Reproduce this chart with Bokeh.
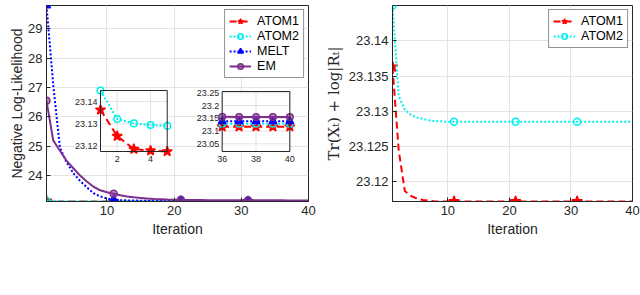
from bokeh.plotting import figure
from bokeh.models import Range1d, Legend, LegendItem, Label, FixedTicker
from bokeh.layouts import row
from bokeh.embed import file_html
from bokeh.resources import INLINE
from bokeh.core.properties import value

# ---------------- data ----------------
iterations = list(range(1, 41))

atom1 = [23.1363, 23.1245, 23.1187, 23.1180, 23.1176, 23.1174, 23.1173, 23.1172, 23.1172, 23.1172,
         23.1172, 23.1172, 23.1172, 23.1172, 23.1172, 23.1172, 23.1172, 23.1172, 23.1172, 23.1172,
         23.1172, 23.1172, 23.1172, 23.1172, 23.1172, 23.1172, 23.1172, 23.1172, 23.1172, 23.1172,
         23.1172, 23.1172, 23.1172, 23.1172, 23.1172, 23.1172, 23.1172, 23.1172, 23.1172, 23.1172]

atom2 = [23.1450, 23.1322, 23.1302, 23.1295, 23.1291, 23.1289, 23.1287, 23.1286, 23.1286, 23.1285,
         23.1285, 23.1285, 23.1285, 23.1285, 23.1285, 23.1285, 23.1285, 23.1285, 23.1285, 23.1285,
         23.1285, 23.1285, 23.1285, 23.1285, 23.1285, 23.1285, 23.1285, 23.1285, 23.1285, 23.1285,
         23.1285, 23.1285, 23.1285, 23.1285, 23.1285, 23.1285, 23.1285, 23.1285, 23.1285, 23.1285]

melt = [29.80, 27.10, 24.95, 24.45, 24.08, 23.82, 23.60, 23.40, 23.29, 23.22,
        23.18, 23.165, 23.155, 23.150, 23.146, 23.144, 23.142, 23.141, 23.140, 23.140,
        23.139, 23.139, 23.139, 23.139, 23.138, 23.138, 23.138, 23.138, 23.138, 23.138,
        23.138, 23.138, 23.138, 23.138, 23.138, 23.138, 23.138, 23.138, 23.138, 23.138]

em = [26.55, 25.20, 24.85, 24.50, 24.25, 24.00, 23.80, 23.62, 23.50, 23.43,
      23.38, 23.33, 23.29, 23.26, 23.24, 23.22, 23.205, 23.195, 23.185, 23.178,
      23.173, 23.170, 23.167, 23.165, 23.163, 23.162, 23.161, 23.160, 23.159, 23.158,
      23.158, 23.157, 23.157, 23.156, 23.156, 23.156, 23.155, 23.155, 23.155, 23.155]

marker_iters = [1, 11, 21, 31]
inset1_iters = [1, 2, 3, 4, 5]
inset2_iters = [36, 37, 38, 39, 40]

a_xticks = [10, 20, 30, 40]
a_yticks = [24, 25, 26, 27, 28, 29]
b_xticks = [10, 20, 30, 40]
b_yticks = [23.12, 23.125, 23.13, 23.135, 23.14]
b_ytick_labels = ["23.12", "23.125", "23.13", "23.135", "23.14"]

in1_xticks = [2, 4]
in1_xtick_labels = ["2", "4"]
in1_yticks = [23.12, 23.13, 23.14]
in1_ytick_labels = ["23.12", "23.13", "23.14"]
in2_xticks = [36, 38, 40]
in2_xtick_labels = ["36", "38", "40"]
in2_yticks = [23.05, 23.1, 23.15, 23.2, 23.25]
in2_ytick_labels = ["23.05", "23.1", "23.15", "23.2", "23.25"]

series_names = ["ATOM1", "ATOM2", "MELT", "EM"]
series_a = {"ATOM1": atom1, "ATOM2": atom2, "MELT": melt, "EM": em}
series_b = ["ATOM1", "ATOM2"]

# ---------------- styles ----------------
FONT = "Liberation Sans"
SERIF = "Liberation Serif"
AX = "#262626"
GRID = "#e3e3e3"

STY = {
    "ATOM1": dict(color="#ff0000", dash="7 4", marker="star", size=11, fill="#ff0000", falpha=1.0),
    "ATOM2": dict(color="#00f0f0", dash="2 2", marker="circle", size=7, fill="#00f0f0", falpha=0.0),
    "MELT": dict(color="#0000ff", dash="2 2", marker="triangle", size=8, fill="#0000ff", falpha=1.0),
    "EM": dict(color="#7e2f8e", dash="solid", marker="circle", size=7, fill="#7e2f8e", falpha=0.55),
}


def pick(series, its):
    return [series[i - 1] for i in its]


def draw(target, name, xs, ys, mxs, mys, lw=2.0, scale=1.0):
    s = STY[name]
    ln = target.line(xs, ys, line_color=s["color"], line_width=lw, line_dash=s["dash"])
    mk = target.scatter(mxs, mys, marker=s["marker"], size=s["size"] * scale,
                        line_color=s["color"], line_width=1.5,
                        fill_color=s["fill"], fill_alpha=s["falpha"])
    return ln, mk


def style_axes(p):
    p.outline_line_color = AX
    p.outline_line_width = 1
    for ax in p.axis:
        ax.axis_line_color = AX
        ax.major_tick_in = 4
        ax.major_tick_out = 0
        ax.major_tick_line_color = AX
        ax.minor_tick_line_color = None
        ax.major_label_text_font = FONT
        ax.major_label_text_font_size = "13px"
        ax.major_label_text_color = AX
        ax.axis_label_text_font = FONT
        ax.axis_label_text_font_size = "14px"
        ax.axis_label_text_font_style = "normal"
        ax.axis_label_text_color = AX
        ax.major_label_standoff = 4
    for g in p.grid:
        g.grid_line_color = GRID
        g.grid_line_width = 1


def make_legend(items):
    return Legend(items=items, location="top_right",
                  label_text_font=FONT, label_text_font_size="12.5px", label_text_color="#000000",
                  border_line_color=AX, border_line_width=1, background_fill_alpha=1,
                  glyph_width=22, glyph_height=14, label_height=14, label_standoff=6,
                  spacing=1, padding=4, margin=4)


def inset(p, xs_rng, ys_rng, xt_rng, yt_rng, its, names, xticks, xlabels, yticks, ylabels):
    sub = p.subplot(x_source=xs_rng, y_source=ys_rng, x_target=xt_rng, y_target=yt_rng)
    sub.quad(left=[xs_rng.start], right=[xs_rng.end], bottom=[ys_rng.start], top=[ys_rng.end],
             fill_color="white", line_color=None)
    sub.segment(x0=xticks, y0=[ys_rng.start] * len(xticks), x1=xticks, y1=[ys_rng.end] * len(xticks),
                line_color=GRID, line_width=1)
    sub.segment(x0=[xs_rng.start] * len(yticks), y0=yticks, x1=[xs_rng.end] * len(yticks), y1=yticks,
                line_color=GRID, line_width=1)
    for nm in names:
        ys = pick(series_a[nm], its)
        draw(sub, nm, its, ys, its, ys, lw=2.0, scale=0.95)
    sub.quad(left=[xs_rng.start], right=[xs_rng.end], bottom=[ys_rng.start], top=[ys_rng.end],
             fill_alpha=0, line_color=AX, line_width=1)
    sub.text(x=xticks, y=[ys_rng.start] * len(xticks), text=xlabels, text_align="center",
             text_baseline="top", y_offset=5, text_font=value(FONT), text_font_size="9px",
             text_color=AX)
    sub.text(x=[xs_rng.start] * len(yticks), y=yticks, text=ylabels, text_align="right",
             text_baseline="middle", x_offset=-3, text_font=value(FONT), text_font_size="9px",
             text_color=AX)


# ---------------- panel (a) ----------------
pA = figure(width=318, height=295, x_range=Range1d(1, 40), y_range=Range1d(23.1172, 29.80),
            output_backend="svg", toolbar_location=None,
            min_border_left=46, min_border_right=10, min_border_top=5, min_border_bottom=94)
pA.xaxis.ticker = FixedTicker(ticks=a_xticks)
pA.yaxis.ticker = FixedTicker(ticks=a_yticks)
pA.xaxis.axis_label = "Iteration"
pA.yaxis.axis_label = "Negative Log-Likelihood"
style_axes(pA)
pA.xaxis.axis_label_standoff = 3
pA.yaxis.axis_label_standoff = 0

items_a = []
for nm in series_names:
    ys = series_a[nm]
    ln, mk = draw(pA, nm, iterations, ys, marker_iters, pick(ys, marker_iters))
    items_a.append(LegendItem(label=nm, renderers=[ln, mk]))

inset(pA, Range1d(1, 5), Range1d(23.1176, 23.1450), Range1d(9.04, 18.97), Range1d(24.822, 26.902),
      inset1_iters, ["ATOM1", "ATOM2"], in1_xticks, in1_xtick_labels, in1_yticks, in1_ytick_labels)
inset(pA, Range1d(36, 40), Range1d(23.02, 23.255), Range1d(27.15, 37.22), Range1d(24.822, 26.868),
      inset2_iters, ["ATOM1", "ATOM2", "MELT", "EM"], in2_xticks, in2_xtick_labels, in2_yticks,
      in2_ytick_labels)

pA.add_layout(make_legend(items_a))
pA.add_layout(Label(x=157, y=258, x_units="canvas", y_units="canvas", text="(a)",
                    text_align="center", text_baseline="middle",
                    text_font=SERIF, text_font_size="17px", text_color="#000000"))

# ---------------- panel (b) ----------------
pB = figure(width=322, height=295, x_range=Range1d(1, 40), y_range=Range1d(23.1172, 23.1450),
            output_backend="svg", toolbar_location=None,
            min_border_left=74, min_border_right=8, min_border_top=5, min_border_bottom=94)
pB.xaxis.ticker = FixedTicker(ticks=b_xticks)
pB.yaxis.ticker = FixedTicker(ticks=b_yticks)
pB.yaxis.major_label_overrides = dict(zip(b_yticks, b_ytick_labels))
pB.xaxis.axis_label = "Iteration"
pB.yaxis.axis_label = "Tr(Xₜ) + log|Rₜ|"
style_axes(pB)
pB.yaxis.axis_label_text_font = "DejaVu Serif"
pB.yaxis.axis_label_text_font_size = "15px"
pB.xaxis.axis_label_standoff = 3
pB.yaxis.axis_label_standoff = 3

items_b = []
for nm in series_b:
    ys = series_a[nm]
    ln, mk = draw(pB, nm, iterations, ys, marker_iters, pick(ys, marker_iters))
    items_b.append(LegendItem(label=nm, renderers=[ln, mk]))
pB.add_layout(make_legend(items_b))
pB.add_layout(Label(x=162, y=258, x_units="canvas", y_units="canvas", text="(b)",
                    text_align="center", text_baseline="middle",
                    text_font=SERIF, text_font_size="17px", text_color="#000000"))

layout = row(pA, pB)
open("out.html", "w").write(file_html(layout, INLINE))
